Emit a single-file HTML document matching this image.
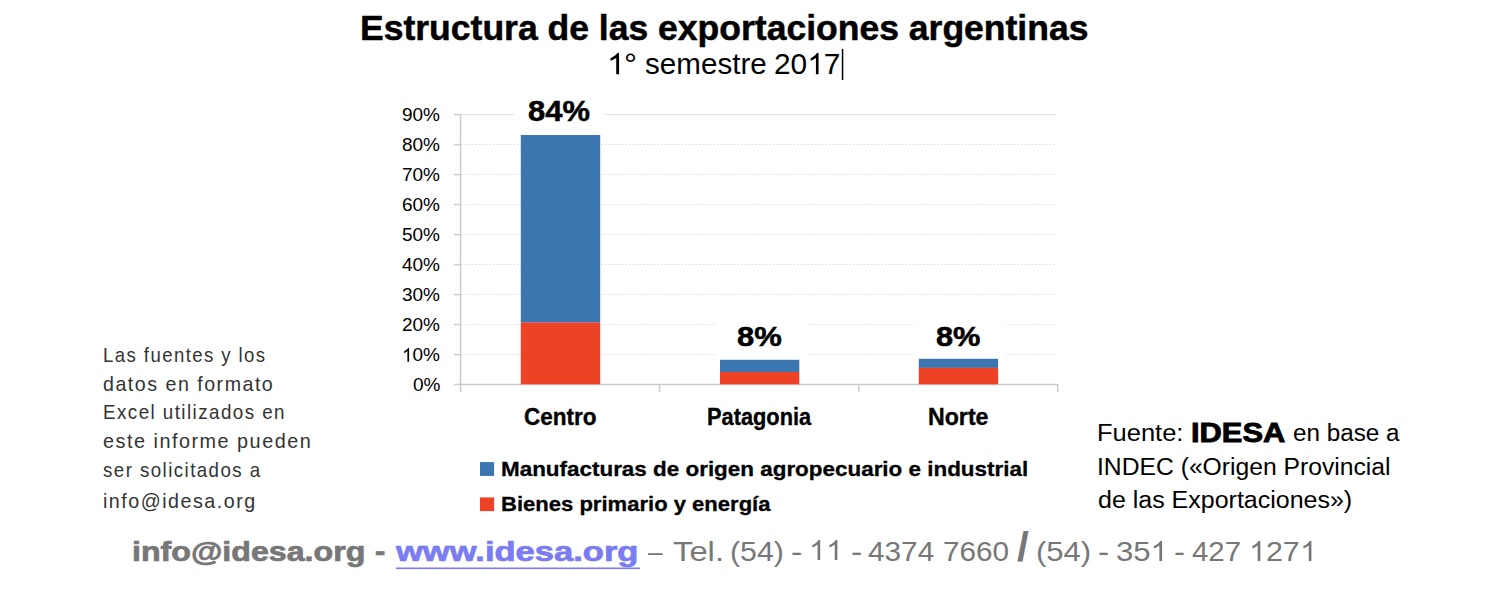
<!DOCTYPE html>
<html><head><meta charset="utf-8">
<style>
html,body{margin:0;padding:0;background:#fff;}
body{width:1500px;height:596px;position:relative;overflow:hidden;font-family:"Liberation Sans",sans-serif;color:#000;}
.t{position:absolute;white-space:nowrap;transform-origin:0 0;}
.b{font-weight:bold;}
.one{width:0.556em;height:0.71875em;vertical-align:baseline;fill:currentColor;overflow:visible;}
</style></head><body>
<svg style="position:absolute;left:0;top:0" width="1500" height="596">
  <line x1="461" y1="114.5" x2="1056" y2="114.5" stroke="#e4e4e4" stroke-width="1.2"/>
  <g stroke="#e3e3e3" stroke-width="1.2" stroke-dasharray="2,1.5">
    <line x1="461" y1="144.5" x2="1056" y2="144.5"/>
    <line x1="461" y1="174.5" x2="1056" y2="174.5"/>
    <line x1="461" y1="204.5" x2="1056" y2="204.5"/>
    <line x1="461" y1="234.5" x2="1056" y2="234.5"/>
    <line x1="461" y1="264.5" x2="1056" y2="264.5"/>
    <line x1="461" y1="294.5" x2="1056" y2="294.5"/>
    <line x1="461" y1="324.5" x2="1056" y2="324.5"/>
    <line x1="461" y1="354.5" x2="1056" y2="354.5"/>
  </g>
  <g stroke="#cbcbcb" stroke-width="1.5">
    <line x1="460.6" y1="114" x2="460.6" y2="392"/>
    <line x1="454" y1="384.5" x2="1058" y2="384.5"/>
    <line x1="659.6" y1="384" x2="659.6" y2="392"/>
    <line x1="858.7" y1="384" x2="858.7" y2="392"/>
    <line x1="1057.7" y1="384" x2="1057.7" y2="392"/>
    <line x1="454" y1="114.6" x2="460" y2="114.6"/>
    <line x1="454" y1="144.6" x2="460" y2="144.6"/>
    <line x1="454" y1="174.6" x2="460" y2="174.6"/>
    <line x1="454" y1="204.6" x2="460" y2="204.6"/>
    <line x1="454" y1="234.6" x2="460" y2="234.6"/>
    <line x1="454" y1="264.6" x2="460" y2="264.6"/>
    <line x1="454" y1="294.6" x2="460" y2="294.6"/>
    <line x1="454" y1="324.6" x2="460" y2="324.6"/>
    <line x1="454" y1="354.6" x2="460" y2="354.6"/>
  </g>
  <rect x="514" y="95" width="91" height="38" fill="#fff"/>
  <rect x="714.8" y="318" width="92.4" height="40" fill="#fff"/>
  <rect x="913.6" y="318" width="92.4" height="39" fill="#fff"/>
  <rect x="520.8" y="135" width="79.4" height="187.6" fill="#3b76b1"/>
  <rect x="520.8" y="322.5" width="79.4" height="61.8" fill="#ed4226"/>
  <rect x="720" y="359.8" width="79.3" height="12.2" fill="#3b76b1"/>
  <rect x="720" y="372" width="79.3" height="12.3" fill="#ed4226"/>
  <rect x="918.8" y="358.8" width="79.3" height="9.1" fill="#3b76b1"/>
  <rect x="918.8" y="367.9" width="79.3" height="16.4" fill="#ed4226"/>
  <rect x="480" y="462.1" width="14.1" height="13.8" fill="#3b76b1"/>
  <rect x="480" y="497.4" width="14.1" height="13.7" fill="#ed4226"/>
  <rect x="395.8" y="567.5" width="244.1" height="1.6" fill="#7b7bf2"/>
  <rect x="841.8" y="49" width="1.5" height="31" fill="#000"/>
</svg>
<div class="t b" style="left:359.90px;top:11.30px;font-size:35.5px;line-height:35.5px;transform:scaleX(1.0006);-webkit-text-stroke:0.5px #000">Estructura de las exportaciones argentinas</div>
<div class="t" style="left:607.30px;top:48.80px;font-size:29.5px;line-height:29.5px;transform:scaleX(1.1000);"><svg class="one" viewBox="0 0 1139 1472"><path d="M763,1472L583,1472L583,325Q518,387 412.5,449Q307,511 223,542L223,368Q374,297 487,196Q600,95 647,0L763,0Z"/></svg></div>
<div class="t" style="left:624.00px;top:48.80px;font-size:29.5px;line-height:29.5px;transform:scaleX(1.1000);">°</div>
<div class="t" style="left:644.80px;top:48.80px;font-size:29.5px;line-height:29.5px;transform:scaleX(1.0034);">semestre</div>
<div class="t" style="left:773.97px;top:48.80px;font-size:29.5px;line-height:29.5px;transform:scaleX(1.0129);">20<svg class="one" viewBox="0 0 1139 1472"><path d="M763,1472L583,1472L583,325Q518,387 412.5,449Q307,511 223,542L223,368Q374,297 487,196Q600,95 647,0L763,0Z"/></svg>7</div>
<div class="t b" style="left:528.25px;top:96.30px;font-size:29.5px;line-height:29.5px;transform:scaleX(1.0483);-webkit-text-stroke:0.5px #000">84%</div>
<div class="t b" style="left:736.77px;top:323.40px;font-size:27.5px;line-height:27.5px;transform:scaleX(1.1263);-webkit-text-stroke:0.5px #000">8%</div>
<div class="t b" style="left:935.58px;top:323.40px;font-size:27.5px;line-height:27.5px;transform:scaleX(1.1184);-webkit-text-stroke:0.5px #000">8%</div>
<div class="t b" style="left:524.42px;top:405.50px;font-size:23px;line-height:23px;transform:scaleX(0.9792);-webkit-text-stroke:0.35px #000">Centro</div>
<div class="t b" style="left:706.85px;top:405.50px;font-size:23px;line-height:23px;transform:scaleX(0.9477);-webkit-text-stroke:0.35px #000">Patagonia</div>
<div class="t b" style="left:928.09px;top:405.50px;font-size:23px;line-height:23px;transform:scaleX(1.0068);-webkit-text-stroke:0.35px #000">Norte</div>
<div class="t b" style="left:501.23px;top:458.40px;font-size:21px;line-height:21px;transform:scaleX(1.0680);-webkit-text-stroke:0.3px #000">Manufacturas de origen agropecuario e industrial</div>
<div class="t b" style="left:501.25px;top:493.30px;font-size:21px;line-height:21px;transform:scaleX(1.0496);-webkit-text-stroke:0.3px #000">Bienes primario y energía</div>
<div class="t" style="left:103.03px;top:343.90px;font-size:21px;line-height:21px;transform:scaleX(0.8851);color:#333;letter-spacing:1.6px">Las fuentes y los</div>
<div class="t" style="left:103.27px;top:372.60px;font-size:21px;line-height:21px;transform:scaleX(0.9350);color:#333;letter-spacing:1.6px">datos en formato</div>
<div class="t" style="left:103.01px;top:401.30px;font-size:21px;line-height:21px;transform:scaleX(0.8955);color:#333;letter-spacing:1.6px">Excel utilizados en</div>
<div class="t" style="left:103.26px;top:429.70px;font-size:21px;line-height:21px;transform:scaleX(0.9431);color:#333;letter-spacing:1.6px">este informe pueden</div>
<div class="t" style="left:103.31px;top:458.60px;font-size:21px;line-height:21px;transform:scaleX(0.8920);color:#333;letter-spacing:1.6px">ser solicitados a</div>
<div class="t" style="left:103.06px;top:489.80px;font-size:21px;line-height:21px;transform:scaleX(0.9375);color:#333;letter-spacing:1.6px">info@idesa.org</div>
<div class="t" style="left:1096.63px;top:422.40px;font-size:23.5px;line-height:23.5px;transform:scaleX(1.0842);">Fuente:</div>
<div class="t b" style="left:1191.30px;top:418.50px;font-size:28px;line-height:28px;transform:scaleX(1.1024);-webkit-text-stroke:0.9px #000">IDESA</div>
<div class="t" style="left:1292.67px;top:422.40px;font-size:23.5px;line-height:23.5px;transform:scaleX(1.0314);">en base a</div>
<div class="t" style="left:1096.70px;top:455.90px;font-size:23.5px;line-height:23.5px;transform:scaleX(1.0504);">INDEC («Origen Provincial</div>
<div class="t" style="left:1097.74px;top:488.50px;font-size:23.5px;line-height:23.5px;transform:scaleX(1.0633);">de las Exportaciones»)</div>
<div class="t b" style="left:131.96px;top:537.80px;font-size:27.5px;line-height:27.5px;transform:scaleX(1.1699);color:#777;-webkit-text-stroke:0.7px #777">info@idesa.org</div>
<div class="t b" style="left:374.57px;top:537.80px;font-size:27.5px;line-height:27.5px;transform:scaleX(1.1250);color:#777;-webkit-text-stroke:0.7px #777">-</div>
<div class="t b" style="left:395.90px;top:537.80px;font-size:27.5px;line-height:27.5px;transform:scaleX(1.2557);color:#7b7bf2;-webkit-text-stroke:0.7px #7b7bf2">www.idesa.org</div>
<div class="t" style="left:648.00px;top:537.60px;font-size:28px;line-height:28px;transform:scaleX(0.9375);color:#777">–</div>
<div class="t" style="left:673.03px;top:537.60px;font-size:28px;line-height:28px;transform:scaleX(1.1700);color:#777">Tel.</div>
<div class="t" style="left:730.03px;top:537.60px;font-size:28px;line-height:28px;transform:scaleX(1.0826);color:#777">(54)</div>
<div class="t" style="left:791.39px;top:537.60px;font-size:28px;line-height:28px;transform:scaleX(1.2143);color:#777">-</div>
<div class="t" style="left:809.48px;top:537.60px;font-size:28px;line-height:28px;transform:scaleX(1.0739);color:#777"><svg class="one" viewBox="0 0 1139 1472"><path d="M763,1472L583,1472L583,325Q518,387 412.5,449Q307,511 223,542L223,368Q374,297 487,196Q600,95 647,0L763,0Z"/></svg><svg class="one" viewBox="0 0 1139 1472"><path d="M763,1472L583,1472L583,325Q518,387 412.5,449Q307,511 223,542L223,368Q374,297 487,196Q600,95 647,0L763,0Z"/></svg></div>
<div class="t" style="left:851.20px;top:537.60px;font-size:28px;line-height:28px;transform:scaleX(1.2000);color:#777">-</div>
<div class="t" style="left:868.14px;top:537.60px;font-size:28px;line-height:28px;transform:scaleX(1.0623);color:#777">4374</div>
<div class="t" style="left:943.14px;top:537.60px;font-size:28px;line-height:28px;transform:scaleX(1.0617);color:#777">7660</div>
<div class="t b" style="left:1017.14px;top:527.00px;font-size:40px;line-height:40px;transform:scaleX(1.0600);color:#777">/</div>
<div class="t" style="left:1036.18px;top:537.80px;font-size:28px;line-height:28px;transform:scaleX(1.1087);color:#777">(54)</div>
<div class="t" style="left:1098.40px;top:537.80px;font-size:28px;line-height:28px;transform:scaleX(1.2000);color:#777">-</div>
<div class="t" style="left:1115.89px;top:537.80px;font-size:28px;line-height:28px;transform:scaleX(1.1125);color:#777">35<svg class="one" viewBox="0 0 1139 1472"><path d="M763,1472L583,1472L583,325Q518,387 412.5,449Q307,511 223,542L223,368Q374,297 487,196Q600,95 647,0L763,0Z"/></svg></div>
<div class="t" style="left:1173.51px;top:537.80px;font-size:28px;line-height:28px;transform:scaleX(1.1857);color:#777">-</div>
<div class="t" style="left:1191.65px;top:537.80px;font-size:28px;line-height:28px;transform:scaleX(1.0511);color:#777">427</div>
<div class="t" style="left:1249.04px;top:537.80px;font-size:28px;line-height:28px;transform:scaleX(1.0870);color:#777"><svg class="one" viewBox="0 0 1139 1472"><path d="M763,1472L583,1472L583,325Q518,387 412.5,449Q307,511 223,542L223,368Q374,297 487,196Q600,95 647,0L763,0Z"/></svg>27<svg class="one" viewBox="0 0 1139 1472"><path d="M763,1472L583,1472L583,325Q518,387 412.5,449Q307,511 223,542L223,368Q374,297 487,196Q600,95 647,0L763,0Z"/></svg></div>
<div class="t" style="left:401.90px;top:105.40px;font-size:19px;line-height:19px;transform:scaleX(1.0000);">90%</div>
<div class="t" style="left:401.90px;top:135.40px;font-size:19px;line-height:19px;transform:scaleX(1.0000);">80%</div>
<div class="t" style="left:401.90px;top:165.40px;font-size:19px;line-height:19px;transform:scaleX(1.0000);">70%</div>
<div class="t" style="left:401.90px;top:195.40px;font-size:19px;line-height:19px;transform:scaleX(1.0000);">60%</div>
<div class="t" style="left:401.90px;top:225.40px;font-size:19px;line-height:19px;transform:scaleX(1.0000);">50%</div>
<div class="t" style="left:401.90px;top:255.40px;font-size:19px;line-height:19px;transform:scaleX(1.0000);">40%</div>
<div class="t" style="left:401.90px;top:285.40px;font-size:19px;line-height:19px;transform:scaleX(1.0000);">30%</div>
<div class="t" style="left:401.90px;top:315.40px;font-size:19px;line-height:19px;transform:scaleX(1.0000);">20%</div>
<div class="t" style="left:401.90px;top:345.40px;font-size:19px;line-height:19px;transform:scaleX(1.0000);"><svg class="one" viewBox="0 0 1139 1472"><path d="M763,1472L583,1472L583,325Q518,387 412.5,449Q307,511 223,542L223,368Q374,297 487,196Q600,95 647,0L763,0Z"/></svg>0%</div>
<div class="t" style="left:412.90px;top:375.40px;font-size:19px;line-height:19px;transform:scaleX(1.0000);">0%</div>
</body></html>
